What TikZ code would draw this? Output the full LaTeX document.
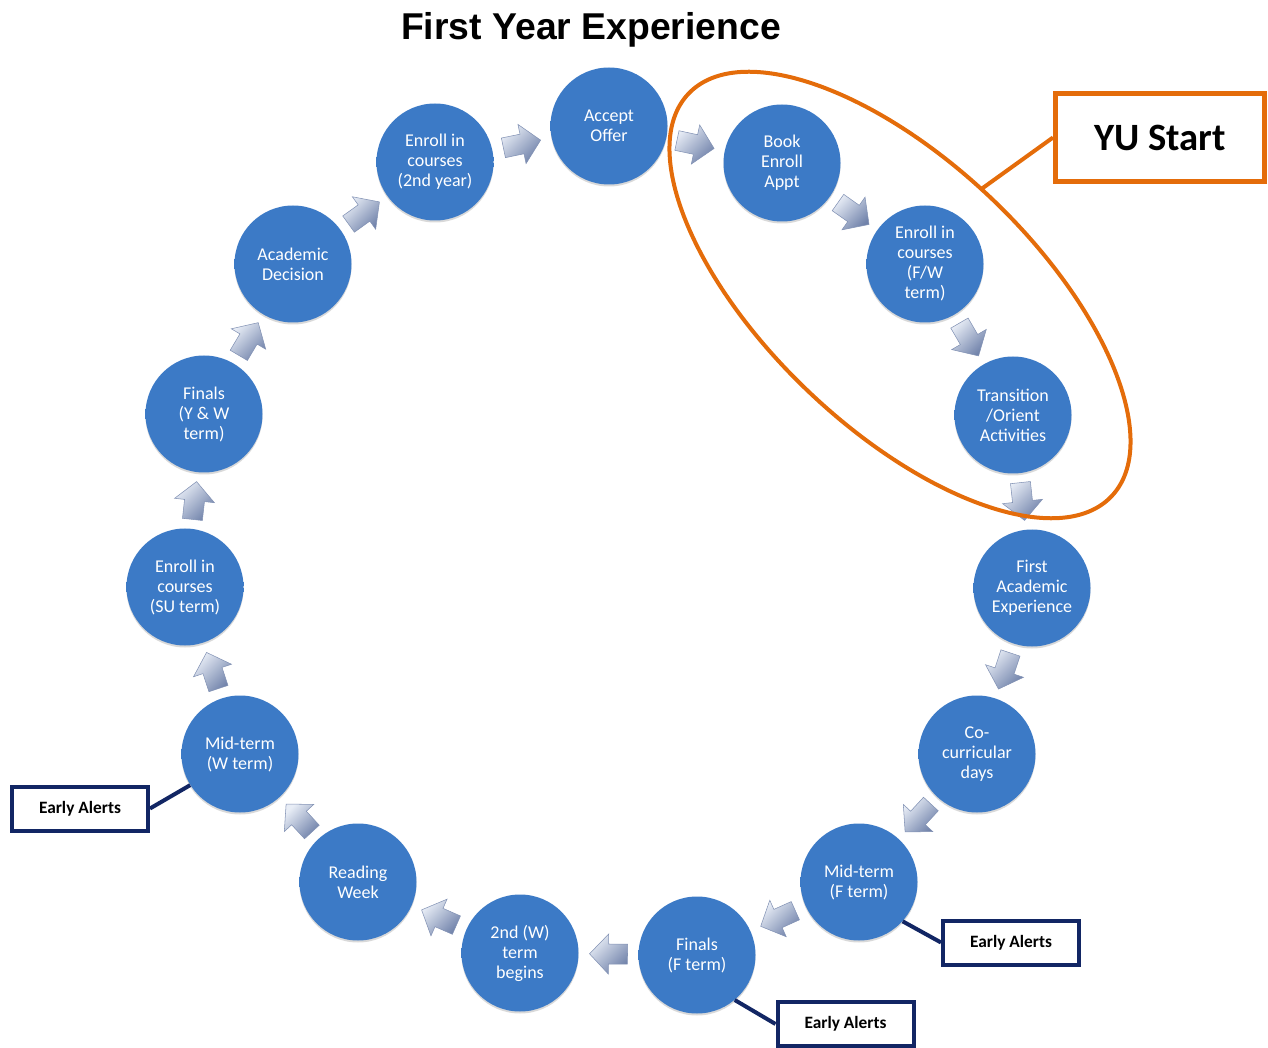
\documentclass[tikz,border=0pt]{standalone}
\usepackage{fontspec}
\setmainfont{Carlito}
\newfontfamily\headfont{Liberation Sans}
\usetikzlibrary{calc,shadows}

\definecolor{bubbleA}{RGB}{60,122,198}
\definecolor{bubbleB}{RGB}{48,102,174}
\definecolor{bubbleC}{RGB}{30,70,128}
\definecolor{yuorange}{RGB}{228,108,10}
\definecolor{alertnavy}{RGB}{18,38,100}
\definecolor{arrlight}{RGB}{232,237,246}
\definecolor{arrdark}{RGB}{112,130,170}
\definecolor{arredge}{RGB}{130,146,180}

\pgfdeclareradialshading{bubble}{\pgfpointorigin}{%
  color(0bp)=(bubbleA); color(34bp)=(bubbleA); color(45bp)=(bubbleB); color(50bp)=(bubbleC)}

\tikzset{
  stage/.style={circle, minimum size=87.75pt, inner sep=0pt, shade, shading=bubble,
    text=white, align=center, font=\fontsize{13.5}{15}\selectfont,
    drop shadow={shadow xshift=0pt, shadow yshift=-1.5pt, opacity=0.3}},
  flowbody/.style={top color=arrlight, bottom color=arrdark, shading angle=45,
    draw=arredge, line width=0.4pt},
  alertbox/.style={draw=alertnavy, line width=3pt, fill=white, minimum width=102pt,
    minimum height=33pt, inner sep=0pt, font=\bfseries\fontsize{13}{15}\selectfont},
  alertlink/.style={draw=alertnavy, line width=3pt},
  yubox/.style={draw=yuorange, line width=3.75pt, minimum width=156.75pt,
    minimum height=66pt, inner sep=0pt, font=\bfseries\fontsize{29}{34}\selectfont},
  yuline/.style={draw=yuorange, line width=3pt},
}

% block arrow half-way between two stages, pointing from #1 to #2
\newcommand\flowarrow[2]{%
  \pgfmathanglebetweenpoints{\pgfpointanchor{#1}{center}}{\pgfpointanchor{#2}{center}}%
  \let\arrang\pgfmathresult
  \begin{scope}[shift={($(#1)!0.5!(#2)$)}, rotate=\arrang]
    \path[flowbody] (-19,-10) -- (0,-10) -- (0,-20) -- (19,0) -- (0,20) -- (0,10) -- (-19,10) -- cycle;
  \end{scope}}

\begin{document}
\begin{tikzpicture}[x=0.75pt, y=-0.75pt]
\useasboundingbox (0,0) rectangle (1268,1048);

\node[font=\headfont\bfseries\fontsize{28}{34}\selectfont, anchor=base] (title) at (591,40) {First Year Experience};

% the yearly cycle
\node[stage] (accept)    at (609,126)  {Accept\\Offer};
\node[stage] (book)      at (782,163)  {Book\\Enroll\\Appt};
\node[stage] (enrollfw)  at (925,264)  {Enroll in\\courses\\(F/W\\term)};
\node[stage] (orient)    at (1013,415) {Transition\\/Orient\\Activities};
\node[stage] (firstacad) at (1032,588) {First\\Academic\\Experience};
\node[stage] (cocurr)    at (977,754)  {Co-\\curricular\\days};
\node[stage] (midf)      at (859,882)  {Mid-term\\(F term)};
\node[stage] (finalsf)   at (697,955)  {Finals\\(F term)};
\node[stage] (wbegins)   at (520,953)  {2nd (W)\\term\\begins};
\node[stage] (reading)   at (358,882)  {Reading\\Week};
\node[stage] (midw)      at (240,754)  {Mid-term\\(W term)};
\node[stage] (enrollsu)  at (185,587)  {Enroll in\\courses\\(SU term)};
\node[stage] (finalsyw)  at (204,414)  {Finals\\(Y \& W\\term)};
\node[stage] (decision)  at (293,264)  {Academic\\Decision};
\node[stage] (enroll2)   at (435,162)  {Enroll in\\courses\\(2nd year)};

\flowarrow{accept}{book}
\flowarrow{book}{enrollfw}
\flowarrow{enrollfw}{orient}
\flowarrow{orient}{firstacad}
\flowarrow{firstacad}{cocurr}
\flowarrow{cocurr}{midf}
\flowarrow{midf}{finalsf}
\flowarrow{finalsf}{wbegins}
\flowarrow{wbegins}{reading}
\flowarrow{reading}{midw}
\flowarrow{midw}{enrollsu}
\flowarrow{enrollsu}{finalsyw}
\flowarrow{finalsyw}{decision}
\flowarrow{decision}{enroll2}
\flowarrow{enroll2}{accept}

% early alert call-outs
\node[alertbox] (alert1) at (80,808.5)   {Early Alerts};
\node[alertbox] (alert2) at (1011,942.5) {Early Alerts};
\node[alertbox] (alert3) at (845.5,1024) {Early Alerts};
\draw[alertlink] (midw.212) -- (alert1.east);
\draw[alertlink] (midf.318) -- (alert2.west);
\draw[alertlink] (finalsf.310) -- (alert3.west);

% YU Start group
\draw[yuorange, line width=3pt, rotate around={-43.6:(900,295)}]
  (900,295) ellipse [x radius=292, y radius=133];
\node[yubox] (yu) at (1160,137.5) {YU Start};
\coordinate (yutip) at (980,190);
\draw[yuline] (yu.west) -- (yutip);
\end{tikzpicture}
\end{document}
